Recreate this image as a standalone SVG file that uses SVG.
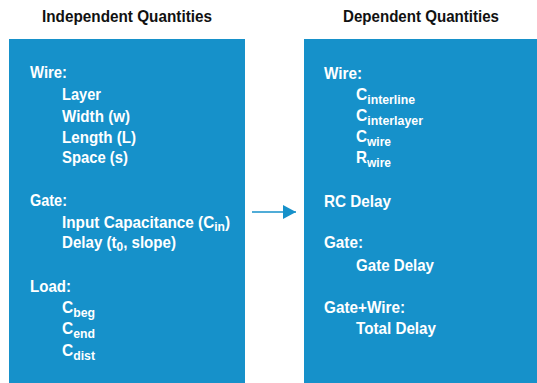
<svg xmlns="http://www.w3.org/2000/svg" width="537" height="383" viewBox="0 0 537 383">
  <style>
    .panel { fill: #1691CA; }
    .head { font-family: "Liberation Sans", Arial, sans-serif; font-weight: bold; font-size: 16.5px; fill: #111; }
    .t { font-family: "Liberation Sans", Arial, sans-serif; font-weight: bold; font-size: 16.5px; fill: #fff; }
    .sub { font-size: 13px; }
    .conn { stroke: #1691CA; stroke-width: 1.6; fill: none; }
  </style>
  <defs>
    <marker id="arrow" markerUnits="userSpaceOnUse" markerWidth="14" markerHeight="14" refX="13" refY="7" orient="auto">
      <path d="M0,0 L13,7 L0,14 Z" fill="#1691CA"/>
    </marker>
  </defs>

  <rect width="537" height="383" fill="#fff"/>

  <!-- Independent quantities panel -->
  <g id="independent">
    <text class="head" x="42" y="22" textLength="170" lengthAdjust="spacingAndGlyphs">Independent Quantities</text>
    <rect class="panel" x="9" y="39" width="236" height="344"/>
    <text class="t" x="30" y="78" textLength="37" lengthAdjust="spacingAndGlyphs">Wire:</text>
    <text class="t" x="62" y="100" textLength="39" lengthAdjust="spacingAndGlyphs">Layer</text>
    <text class="t" x="62" y="122" textLength="68" lengthAdjust="spacingAndGlyphs">Width (w)</text>
    <text class="t" x="62" y="143" textLength="74" lengthAdjust="spacingAndGlyphs">Length (L)</text>
    <text class="t" x="62" y="163" textLength="66" lengthAdjust="spacingAndGlyphs">Space (s)</text>
    <text class="t" x="30" y="206" textLength="37" lengthAdjust="spacingAndGlyphs">Gate:</text>
    <text class="t" x="62" y="228" textLength="168" lengthAdjust="spacingAndGlyphs">Input Capacitance (C<tspan class="sub" dy="3">in</tspan><tspan dy="-3">)</tspan></text>
    <text class="t" x="62" y="248" textLength="114" lengthAdjust="spacingAndGlyphs">Delay (t<tspan class="sub" dy="3">0</tspan><tspan dy="-3">, slope)</tspan></text>
    <text class="t" x="30" y="292" textLength="41" lengthAdjust="spacingAndGlyphs">Load:</text>
    <text class="t" x="62" y="313" textLength="33" lengthAdjust="spacingAndGlyphs">C<tspan class="sub" dy="4">beg</tspan></text>
    <text class="t" x="62" y="334" textLength="33" lengthAdjust="spacingAndGlyphs">C<tspan class="sub" dy="4">end</tspan></text>
    <text class="t" x="62" y="356" textLength="33" lengthAdjust="spacingAndGlyphs">C<tspan class="sub" dy="4">dist</tspan></text>
  </g>

  <!-- Dependent quantities panel -->
  <g id="dependent">
    <text class="head" x="343" y="22" textLength="156" lengthAdjust="spacingAndGlyphs">Dependent Quantities</text>
    <rect class="panel" x="304" y="39" width="233" height="344"/>
    <text class="t" x="324" y="79" textLength="38" lengthAdjust="spacingAndGlyphs">Wire:</text>
    <text class="t" x="356" y="100" textLength="59" lengthAdjust="spacingAndGlyphs">C<tspan class="sub" dy="4">interline</tspan></text>
    <text class="t" x="356" y="121" textLength="67" lengthAdjust="spacingAndGlyphs">C<tspan class="sub" dy="4">interlayer</tspan></text>
    <text class="t" x="356" y="142" textLength="35" lengthAdjust="spacingAndGlyphs">C<tspan class="sub" dy="4">wire</tspan></text>
    <text class="t" x="356" y="163" textLength="35" lengthAdjust="spacingAndGlyphs">R<tspan class="sub" dy="4">wire</tspan></text>
    <text class="t" x="324" y="207" textLength="67" lengthAdjust="spacingAndGlyphs">RC Delay</text>
    <text class="t" x="324" y="248" textLength="39" lengthAdjust="spacingAndGlyphs">Gate:</text>
    <text class="t" x="356" y="271" textLength="78" lengthAdjust="spacingAndGlyphs">Gate Delay</text>
    <text class="t" x="324" y="313" textLength="81" lengthAdjust="spacingAndGlyphs">Gate+Wire:</text>
    <text class="t" x="356" y="334" textLength="80" lengthAdjust="spacingAndGlyphs">Total Delay</text>
  </g>

  <!-- Connector -->
  <g id="connectors">
    <line class="conn" x1="252" y1="212" x2="296" y2="212" marker-end="url(#arrow)"/>
  </g>
</svg>
